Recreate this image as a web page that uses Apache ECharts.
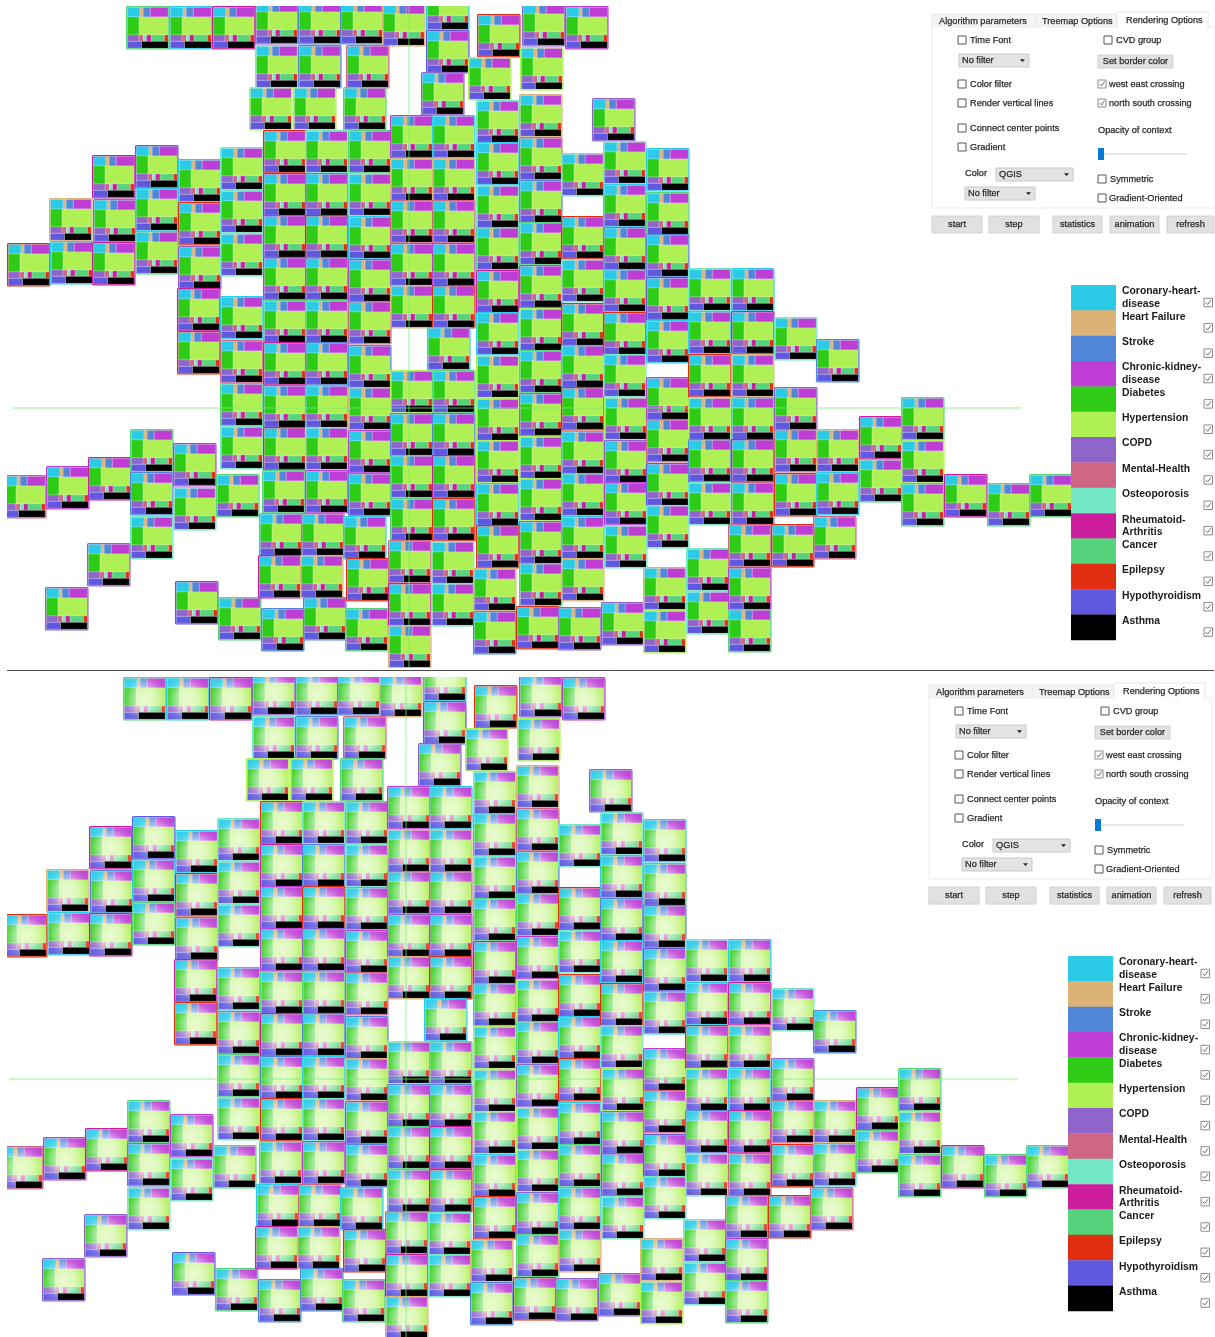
<!DOCTYPE html>
<html><head><meta charset="utf-8">
<style>html,body{margin:0;padding:0;background:#fff}#c{width:1215px;height:1337px}</style>
<script src="https://cdn.jsdelivr.net/npm/echarts@6/dist/echarts.min.js"></script>
</head><body><div id="c"></div>
<script>
// Disease categories, legend order
const diseases = ['Coronary-heart-disease','Heart Failure','Stroke','Chronic-kidney-disease','Diabetes','Hypertension','COPD','Mental-Health','Osteoporosis','Rheumatoid-Arthritis','Cancer','Epilepsy','Hypothyroidism','Asthma'];
const diseaseLabels = [['Coronary-heart-','disease'],['Heart Failure'],['Stroke'],['Chronic-kidney-','disease'],['Diabetes'],['Hypertension'],['COPD'],['Mental-Health'],['Osteoporosis'],['Rheumatoid-','Arthritis'],['Cancer'],['Epilepsy'],['Hypothyroidism'],['Asthma']];
const diseaseColors = ['#2bcbe8','#dcb277','#5286d8','#bd3dd5','#2ecc17','#aff055','#9065c9','#cf6683','#74e8c5','#cc1e9c','#56d47c','#e22e10','#6059e0','#000000'];
// Relative size of each disease within a tile
const diseaseValues = [127,31,71,179,219,541,77,30,20,30,88,25,101,189];
// Treemap rows (indices into diseases)
const treemapRows = [[0,1,2,3],[4,5],[6,7,8,9,10,11],[12,13]];
// Tiles of the grid map: [west, north, disease coded by the border]
const tiles = [
[126,6,10],[169,6,0],[212,6,9],[255,1,6],[298,1,2],[340,1,2],[382,3,1],[426,-13,0],[477,14,11],[522,3,6],[565,6,3],
[255,45,8],[298,45,2],[346,45,7],[426,30,12],[468,57,5],[520,47,5],
[249,87,5],[293,87,5],[343,87,10],[421,72,6],[476,100,8],[519,94,1],[592,98,6],
[92,155,9],[135,145,12],[178,159,0],[220,147,8],
[49,198,1],[93,199,2],[135,188,0],[178,202,11],[220,190,8],
[7,243,11],[50,241,0],[92,242,9],[135,231,10],[178,246,6],[220,233,8],
[177,288,9],[220,296,0],[177,331,11],
[220,340,7],[220,383,10],[220,426,8],
[3,475,7],[46,466,3],[88,457,9],[130,429,10],[130,472,2],[130,516,8],[173,443,3],[173,487,8],[216,474,10],
[87,543,6],[45,587,6],[175,581,12],[218,597,10],
[263,130,11],[263,173,9],[263,215,3],[263,257,3],[263,300,10],[263,342,9],[263,385,2],[263,427,11],[262,470,10],[259,513,0],[258,555,9],[261,608,2],
[305,130,8],[305,173,2],[305,215,11],[305,257,6],[305,300,10],[305,342,2],[305,385,0],[305,427,8],[305,470,3],[301,513,7],[300,555,1],[303,597,2],
[348,130,10],[348,173,8],[348,216,0],[348,259,3],[348,301,7],[348,345,2],[348,387,1],[348,430,3],[348,473,2],[343,516,0],[346,558,11],[345,608,10],
[390,115,3],[390,158,1],[390,200,7],[390,243,6],[390,285,1],[390,370,5],[390,413,2],[390,455,10],[390,498,10],[388,540,7],[388,583,9],[388,625,1],
[432,115,0],[432,158,1],[432,200,7],[432,243,3],[432,285,11],[427,327,0],[432,370,10],[432,413,2],[432,455,9],[432,498,11],[431,541,8],[431,583,8],
[476,142,0],[476,185,8],[476,227,10],[476,270,9],[476,312,0],[476,355,5],[476,398,5],[476,440,5],[476,483,0],[476,525,11],[473,568,1],[473,611,2],
[519,137,7],[519,180,2],[519,222,10],[519,265,3],[519,308,5],[519,350,10],[519,393,6],[519,436,5],[519,478,5],[519,521,6],[519,563,10],[516,606,11],
[561,153,8],[561,216,11],[561,259,8],[561,303,11],[561,345,0],[561,387,11],[561,431,0],[561,473,10],[561,516,0],[561,558,1],[558,607,6],
[603,141,8],[603,184,0],[603,227,2],[603,269,0],[603,312,11],[603,354,8],[604,397,5],[604,440,6],[604,482,3],[604,525,8],[601,602,6],
[646,148,0],[646,192,10],[646,234,2],[646,277,12],[646,320,0],[646,377,3],[646,419,7],[646,463,12],[646,505,8],[643,567,1],[643,610,5],
[688,268,8],[688,311,0],[688,354,11],[688,397,5],[688,439,2],[688,482,8],[686,548,8],[686,591,8],
[731,268,0],[731,311,9],[731,354,1],[731,397,0],[731,439,9],[731,482,7],[728,524,7],[728,567,3],[728,609,10],
[774,317,8],[774,387,6],[774,429,7],[774,473,11],[771,524,11],
[816,339,2],[816,429,1],[816,472,0],[813,516,7],
[859,416,9],[859,459,10],
[901,397,10],[901,440,5],[901,483,10],[944,474,9],[987,483,10],[1029,474,10]
];
const northSouthLine = [[409,6],[409,668]];
const westEastLine = [[12,408],[1021,408]];

const TILE = 43.5, INSET = 1.3;
function mix(hex, amt){
  const n = parseInt(hex.slice(1),16), f = c => Math.round(c + (255-c)*amt);
  return 'rgb('+f(n>>16&255)+','+f(n>>8&255)+','+f(n&255)+')';
}
function renderTile(gradient){
  return function(params, api){
    const p = api.coord([api.value(0), api.value(1)]);
    const s = api.size([TILE, TILE]);
    const w = s[0], h = s[1], cx = p[0]+w/2, cy = p[1]+h/2;
    const innerW = w-2*INSET, innerH = h-2*INSET;
    const total = diseaseValues.reduce((a,b)=>a+b,0);
    const kids = [];
    let y = p[1]+INSET;
    treemapRows.forEach(row=>{
      const sum = row.reduce((a,i)=>a+diseaseValues[i],0);
      const rh = innerH*sum/total;
      let x = p[0]+INSET;
      row.forEach(i=>{
        const rw = innerW*diseaseValues[i]/sum;
        let fill = diseaseColors[i];
        if(gradient && i!==13){
          fill = {type:'radial',x:cx,y:cy,r:28,global:true,colorStops:[
            {offset:0,color:mix(fill,.75)},{offset:.4,color:mix(fill,.55)},{offset:.7,color:mix(fill,.15)},{offset:1,color:fill}]};
        }
        kids.push({type:'rect',shape:{x:x,y:y,width:rw,height:rh},
          style:{fill:fill,stroke:'rgba(255,255,255,0.4)',lineWidth:.5}});
        x += rw;
      });
      y += rh;
    });
    kids.push({type:'rect',shape:{x:p[0]+.6,y:p[1]+.6,width:w-1.2,height:h-1.2,r:1},
      style:{fill:'none',stroke:diseaseColors[api.value(2)],lineWidth:1.3}});
    return {type:'group',children:kids};
  };
}
const GUIDE = {color:'rgba(110,240,110,0.75)',width:1};
function guides(grid,name){
  return [northSouthLine,westEastLine].map((d,i)=>({
    type:'line',name:name+i,xAxisIndex:grid,yAxisIndex:grid,data:d,symbol:'none',silent:true,
    animation:false,lineStyle:GUIDE,z:5,clip:true}));
}
const FONT = '"Liberation Sans",Arial,sans-serif';
function ui(dx,dy){
  const e=[];
  const T=(s,x,y,o)=>e.push({type:'text',z:20,x:x+dx,y:y+dy,style:Object.assign({text:s,fill:'#2a2a2a',stroke:'#2a2a2a',lineWidth:.25,font:'9.2px '+FONT,textVerticalAlign:'middle',textAlign:'left'},o||{})});
  const R=(x,y,w,h,fill,stroke)=>e.push({type:'rect',z:19,shape:{x:x+dx,y:y+dy,width:w,height:h},style:{fill:fill,stroke:stroke||'none',lineWidth:1}});
  const check=(x,y,size,on)=>{
    R(x,y-size/2,size,size,'#fff',on?'#8c8c8c':'#555');
    if(on) e.push({type:'polyline',z:20,shape:{points:[[x+1.8+dx,y+dy],[x+3.6+dx,y+2+dy],[x+size-1.5+dx,y-2.4+dy]]},style:{fill:'none',stroke:'#6a6a6a',lineWidth:1}});
  };
  const box=(label,x,y,tx,on)=>{check(x,y,8,on);T(label,tx,y);};
  const drop=(label,x,y,w,h)=>{R(x,y,w,h,'#e3e3e3','#c9c9c9');T(label,x+3,y+h/2);
    e.push({type:'polygon',z:20,shape:{points:[[x+w-9+dx,y+h/2-1.2+dy],[x+w-4+dx,y+h/2-1.2+dy],[x+w-6.5+dx,y+h/2+1.5+dy]]},style:{fill:'#222'}});};
  const btn=(label,x,y,w,h)=>{R(x,y,w,h,'#e1e1e1','#d0d0d0');T(label,x+w/2,y+h/2,{textAlign:'center'});};
  // tabs
  R(932,14,104,14,'#f4f4f4','#e8e8e8');R(1036,14,81,14,'#f4f4f4','#e8e8e8');
  R(932,27,283,181,'#fff','#ececec');
  R(1117,12,91,16,'#fff','#e6e6e6');
  R(1118,26,89,3,'#fff');
  T('Algorithm parameters',939,21);T('Treemap Options',1042,21);T('Rendering Options',1126,20);
  box('Time Font',958,40,970);box('CVD group',1104,40,1116);
  drop('No filter',959,54,70,13);btn('Set border color',1098,55,75,13);
  box('Color filter',958,84,970);box('west east crossing',1098,84,1109,true);
  box('Render vertical lines',958,103,970);box('north south crossing',1098,103,1109,true);
  box('Connect center points',958,128,970);T('Opacity of context',1098,130);
  box('Gradient',958,147,970);
  R(1098,153,89,2,'#e7e7e7');R(1098,148,6,12,'#0a78d7');
  T('Color',965,173);drop('QGIS',996,168,77,13);drop('No filter',965,187,70,13);
  box('Symmetric',1098,179,1110);box('Gradient-Oriented',1098,198,1109);
  btn('start',932,216,50,17);btn('step',989,216,50,17);btn('statistics',1053,216,49,17);btn('animation',1110,216,49,17);btn('refresh',1167,216,47,17);
  // legend
  const pitch=25.35;
  diseases.forEach((d,i)=>{
    e.push({type:'rect',z:19,shape:{x:1071+dx,y:285+i*pitch+dy,width:45,height:pitch+.3},style:{fill:diseaseColors[i]}});
    diseaseLabels[i].forEach((t,k)=>T(t,1122,291.5+i*pitch+k*12.6,{font:'bold 10.4px '+FONT,fill:'#1c1c1c',lineWidth:0}));
    check(1204,302.5+i*pitch,8.5,true);
  });
  return e;
}
const chart = echarts.init(document.getElementById('c'),null,{renderer:'canvas'});
const hidden = {type:'value',show:false};
chart.setOption({
  animation:false,
  backgroundColor:'#fff',
  grid:[
    {left:7,top:6,width:1065,height:662},
    {left:7,top:677,width:1062,height:660}
  ],
  xAxis:[Object.assign({min:7,max:1072,gridIndex:0},hidden),Object.assign({min:10,max:1072,gridIndex:1},hidden)],
  yAxis:[Object.assign({min:6,max:668,inverse:true,gridIndex:0},hidden),Object.assign({min:6,max:666,inverse:true,gridIndex:1},hidden)],
  series:[
    {type:'custom',name:'Solid tiles',xAxisIndex:0,yAxisIndex:0,clip:true,data:tiles,encode:{x:0,y:1},renderItem:renderTile(false),silent:true},
    ...guides(0,'top crossing'),
    {type:'custom',name:'Gradient tiles',xAxisIndex:1,yAxisIndex:1,clip:true,data:tiles,encode:{x:0,y:1},renderItem:renderTile(true),silent:true},
    ...guides(1,'bottom crossing')
  ],
  graphic:{elements:[
    ...ui(0,0),...ui(-3,671),
    {type:'line',z:20,shape:{x1:7,y1:670.5,x2:1214,y2:670.5},style:{stroke:'#4a4a4a',lineWidth:1}}
  ]}
});
</script></body></html>
